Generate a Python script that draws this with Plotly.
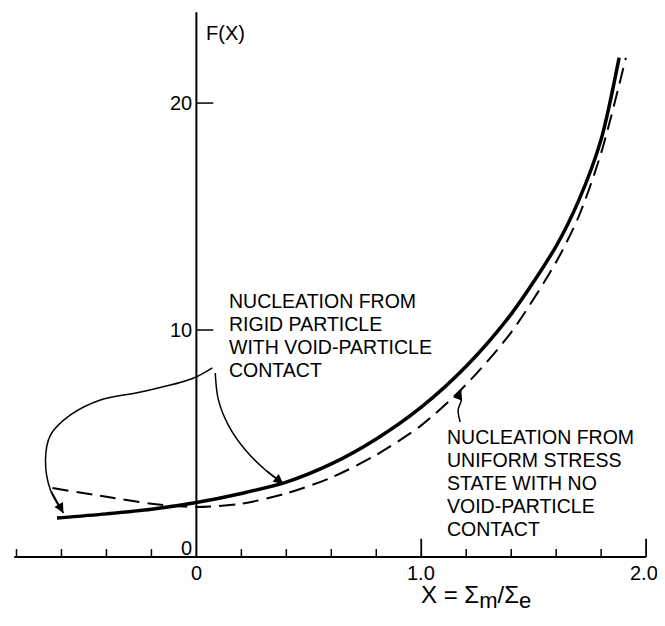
import plotly.graph_objects as go

# Data
x_rigid = [-0.62, -0.4, -0.2, 0.0, 0.2, 0.4, 0.6, 0.8, 1.0, 1.2, 1.4, 1.6, 1.7, 1.8, 1.88]
f_rigid = [1.72, 1.9, 2.1, 2.4, 2.8, 3.3, 4.1, 5.2, 6.6, 8.4, 10.7, 13.7, 15.7, 18.4, 22.0]

x_uniform = [-0.64, -0.4, -0.2, 0.0, 0.2, 0.4, 0.6, 0.8, 1.0, 1.2, 1.4, 1.6, 1.7, 1.8, 1.91]
f_uniform = [3.04, 2.65, 2.35, 2.2, 2.35, 2.8, 3.5, 4.5, 5.8, 7.6, 9.9, 13.0, 15.0, 17.8, 22.0]

x_minor_ticks = [-0.8, -0.6, -0.4, -0.2, 0.2, 0.4, 0.6, 0.8, 1.2, 1.4, 1.6, 1.8]
x_major_ticks = [1.0, 2.0]
x_tick_labels = {0.0: "0", 1.0: "1.0", 2.0: "2.0"}
y_ticks = [10, 20]
y_tick_labels = {0: "0", 10: "10", 20: "20"}

label_rigid = ["NUCLEATION FROM", "RIGID PARTICLE", "WITH VOID-PARTICLE", "CONTACT"]
label_uniform = ["NUCLEATION FROM", "UNIFORM STRESS", "STATE WITH NO", "VOID-PARTICLE", "CONTACT"]

# leader-line paths (annotation decoration)
arrow1_x = [0.071, -0.02, -0.249, -0.427, -0.56, -0.649, -0.671, -0.649, -0.591]
arrow1_y = [8.33, 7.85, 7.27, 6.92, 6.26, 5.37, 4.27, 2.95, 1.94]
arrow2_x = [0.084, 0.098, 0.142, 0.218, 0.307, 0.387]
arrow2_y = [8.11, 6.92, 5.81, 4.71, 3.83, 3.22]
arrow3_x = [1.173, 1.164, 1.178, 1.169, 1.178]
arrow3_y = [5.95, 6.48, 6.92, 7.14, 7.36]

FONT = "Liberation Sans"
fig = go.Figure()

fig.add_trace(go.Scatter(x=x_rigid, y=f_rigid, mode="lines",
                         line=dict(color="black", width=3.5, shape="spline", smoothing=0.8),
                         hoverinfo="skip", showlegend=False))
fig.add_trace(go.Scatter(x=x_uniform, y=f_uniform, mode="lines",
                         line=dict(color="black", width=2, dash="16px,8px", shape="spline", smoothing=0.8),
                         hoverinfo="skip", showlegend=False))

for ax_, ay_ in [(arrow1_x, arrow1_y), (arrow2_x, arrow2_y), (arrow3_x, arrow3_y)]:
    fig.add_trace(go.Scatter(x=ax_, y=ay_, mode="lines", line=dict(color="black", width=1.5, shape="spline"),
                             hoverinfo="skip", showlegend=False))
    fig.add_annotation(x=ax_[-1], y=ay_[-1], ax=ax_[-2], ay=ay_[-2], xref="x", yref="y", axref="x", ayref="y",
                       text="", showarrow=True, arrowhead=2, arrowsize=1.3, arrowwidth=1.5, arrowcolor="black")

shapes = []
shapes.append(dict(type="line", x0=-0.81, x1=2.0, y0=0, y1=0, line=dict(color="black", width=2)))
for t in x_minor_ticks:
    shapes.append(dict(type="line", x0=t, x1=t, y0=0, y1=0.35, line=dict(color="black", width=1.5)))
for t in x_major_ticks:
    shapes.append(dict(type="line", x0=t, x1=t, y0=0, y1=0.8, line=dict(color="black", width=1.8)))
shapes.append(dict(type="line", x0=0, x1=0, y0=0, y1=24.0, line=dict(color="black", width=2)))
for t in y_ticks:
    shapes.append(dict(type="line", x0=0, x1=0.075, y0=t, y1=t, line=dict(color="black", width=1.5)))

anns = []
for v, s in x_tick_labels.items():
    xx = 1.99 if v == 2.0 else v
    anns.append(dict(x=xx, y=-0.72, text=s, showarrow=False, xanchor="center", yanchor="middle",
                     font=dict(size=20, family=FONT, color="black")))
for v, s in y_tick_labels.items():
    yy = v if v else 0.4
    anns.append(dict(x=-0.012, y=yy, text=s, showarrow=False, xanchor="right", yanchor="middle",
                     font=dict(size=20, family=FONT, color="black")))
anns.append(dict(x=0.035, y=23.1, text="F(X)", showarrow=False, xanchor="left", yanchor="middle",
                 font=dict(size=20, family=FONT, color="black")))
anns.append(dict(x=0.99, y=-1.75,
                 text="X = Σ<sub><span style='font-size:22px'>m</span></sub>/Σ<sub><span style='font-size:22px'>e</span></sub>",
                 showarrow=False, xanchor="left", yanchor="middle",
                 font=dict(size=24, family=FONT, color="black")))
for i, s in enumerate(label_rigid):
    anns.append(dict(x=0.135, y=11.28 - 1.013 * i, text=s, showarrow=False, xanchor="left", yanchor="middle",
                     font=dict(size=19.5, family=FONT, color="black")))
for i, s in enumerate(label_uniform):
    anns.append(dict(x=1.105, y=5.29 - 1.013 * i, text=s, showarrow=False, xanchor="left", yanchor="middle",
                     font=dict(size=19.5, family=FONT, color="black")))

fig.update_layout(
    width=657, height=610,
    margin=dict(l=3.5, r=0.1, t=1.9, b=2),
    paper_bgcolor="white", plot_bgcolor="white",
    xaxis=dict(range=[-0.82, 2.084], visible=False),
    yaxis=dict(range=[-2.6, 24.1], visible=False),
    shapes=shapes,
    showlegend=False,
)
for a in anns:
    fig.add_annotation(**a)

fig.write_html("out.html")
